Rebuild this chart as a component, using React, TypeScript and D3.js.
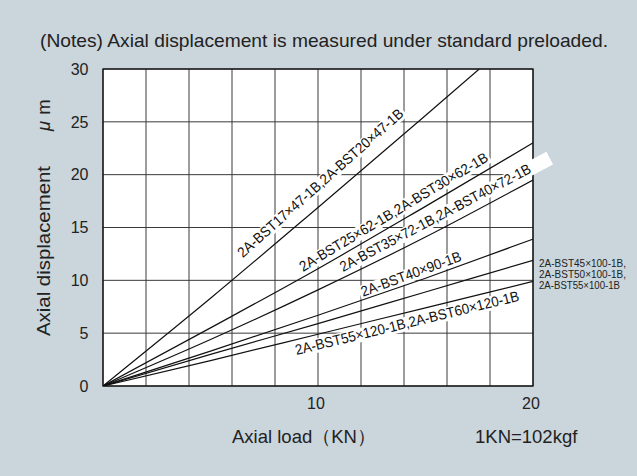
import React from 'react';
import * as d3 from 'd3';

// axial load (KN) sample points
const loadSteep = [0, 5, 10, 15, 17.5];
const loadKN = [0, 5, 10, 15, 20];

// axial displacement (um)
const dispBST17 = [0, 8.3, 16.9, 25.6, 30];
const dispBST25 = [0, 5.5, 11.1, 17.0, 23.0];
const dispBST35 = [0, 4.4, 9.1, 14.1, 19.5];
const dispBST40x90 = [0, 3.3, 6.7, 10.2, 13.9];
const dispBST45 = [0, 3.0, 5.9, 8.9, 11.9];
const dispBST55x120 = [0, 2.4, 4.9, 7.4, 9.9];

const xGrid = [0, 2, 4, 6, 8, 10, 12, 14, 16, 18, 20];
const xTickLabels = [10, 20];
const yTicks = [0, 5, 10, 15, 20, 25, 30];

const lineLabels = [
  '2A-BST17×47-1B,2A-BST20×47-1B',
  '2A-BST25×62-1B,2A-BST30×62-1B',
  '2A-BST35×72-1B,2A-BST40×72-1B',
  '2A-BST40×90-1B',
  '2A-BST55×120-1B,2A-BST60×120-1B',
];
const sideLabel = ['2A-BST45×100-1B,', '2A-BST50×100-1B,', '2A-BST55×100-1B'];

const W = 637;
const H = 476;
const BG = '#cad5dc';
const FONT = '"Liberation Sans", Arial, Helvetica, sans-serif';

// where each slanted label sits: data anchor, angle, length, extra white box
const labelLayout = [
  { x: 6.5, y: 12.1, angle: -41.5, len: 216, extra: 0 },
  { x: 9.3, y: 10.8, angle: -30.9, len: 217, extra: 0 },
  { x: 11.16, y: 10.8, angle: -27.8, len: 214, extra: 20 },
  { x: 12.09, y: 8.45, angle: -20.1, len: 106, extra: 0 },
  { x: 9.0, y: 2.93, angle: -13.7, len: 230, extra: 0 },
];

export default function App() {
  const x = d3.scaleLinear().domain([0, 20]).range([103, 533]);
  const y = d3.scaleLinear().domain([0, 30]).range([386, 69]);

  const series = [
    { xs: loadSteep, ys: dispBST17 },
    { xs: loadKN, ys: dispBST25 },
    { xs: loadKN, ys: dispBST35 },
    { xs: loadKN, ys: dispBST40x90 },
    { xs: loadKN, ys: dispBST45 },
    { xs: loadKN, ys: dispBST55x120 },
  ];

  const line = d3
    .line<[number, number]>()
    .x(d => x(d[0]))
    .y(d => y(d[1]))
    .curve(d3.curveMonotoneX);

  const fs = 14.5;

  return (
    <svg
      width={W}
      height={H}
      style={{ position: 'absolute', left: 0, top: 0, display: 'block' }}
      fontFamily={FONT}
    >
      <defs>
        <clipPath id="plot">
          <rect x={x(0)} y={y(30)} width={x(20) - x(0)} height={y(0) - y(30)} />
        </clipPath>
      </defs>
      <rect width={W} height={H} fill={BG} />

      <text x={40} y={46.5} fontSize={19} fill="#222" textLength={568} lengthAdjust="spacingAndGlyphs">
        (Notes) Axial displacement is measured under standard preloaded.
      </text>

      {/* plot area */}
      <rect x={x(0)} y={y(30)} width={x(20) - x(0)} height={y(0) - y(30)} fill="#fff" />
      <g stroke="#3a3a3a" strokeWidth={1}>
        {xGrid.map(v => (
          <line key={'gx' + v} x1={x(v)} x2={x(v)} y1={y(0)} y2={y(30)} />
        ))}
        {yTicks.map(v => (
          <line key={'gy' + v} x1={x(0)} x2={x(20)} y1={y(v)} y2={y(v)} />
        ))}
      </g>
      <rect
        x={x(0)}
        y={y(30)}
        width={x(20) - x(0)}
        height={y(0) - y(30)}
        fill="none"
        stroke="#111"
        strokeWidth={1.3}
      />

      {/* white boxes behind the slanted labels */}
      {labelLayout.map((l, i) => (
        <g key={'bg' + i} transform={`translate(${x(l.x)},${y(l.y)}) rotate(${l.angle})`}>
          <rect x={-2} y={-fs * 0.78} width={l.len + 4 + l.extra} height={fs * 0.98} fill="#fff" />
        </g>
      ))}

      <g clipPath="url(#plot)" fill="none" stroke="#111" strokeWidth={1.2}>
        {series.map((s, i) => (
          <path key={'s' + i} d={line(s.xs.map((v, j) => [v, s.ys[j]] as [number, number])) || ''} />
        ))}
      </g>

      {labelLayout.map((l, i) => (
        <text
          key={'lb' + i}
          transform={`translate(${x(l.x)},${y(l.y)}) rotate(${l.angle})`}
          fontSize={fs}
          fill="#111"
          textLength={l.len}
          lengthAdjust="spacingAndGlyphs"
        >
          {lineLabels[i]}
        </text>
      ))}

      {sideLabel.map((t, i) => (
        <text
          key={'sl' + i}
          x={539}
          y={267.3 + i * 11}
          fontSize={11}
          fill="#222"
          textLength={i < 2 ? 87 : 81}
          lengthAdjust="spacingAndGlyphs"
        >
          {t}
        </text>
      ))}

      {/* axes labels */}
      {yTicks.map(v => (
        <text key={'ty' + v} x={88.5} y={y(v)} dy="0.36em" textAnchor="end" fontSize={16} fill="#222">
          {v}
        </text>
      ))}
      {xTickLabels.map(v => (
        <text key={'tx' + v} x={x(v) - 2} y={409.3} textAnchor="middle" fontSize={16} fill="#222">
          {v}
        </text>
      ))}

      <text x={232} y={443.3} fontSize={18.5} fill="#222">
        Axial load（KN）
      </text>
      <text x={475} y={443.3} fontSize={18.5} fill="#222">
        1KN=102kgf
      </text>

      <g transform="translate(50,336) rotate(-90)" fontSize={18.5} fill="#222">
        <text x={0} y={0} textLength={170} lengthAdjust="spacingAndGlyphs">Axial displacement</text>
        <text x={205} y={0}>
          <tspan fontStyle="italic">μ</tspan>
          <tspan dx={6}>m</tspan>
        </text>
      </g>
    </svg>
  );
}
